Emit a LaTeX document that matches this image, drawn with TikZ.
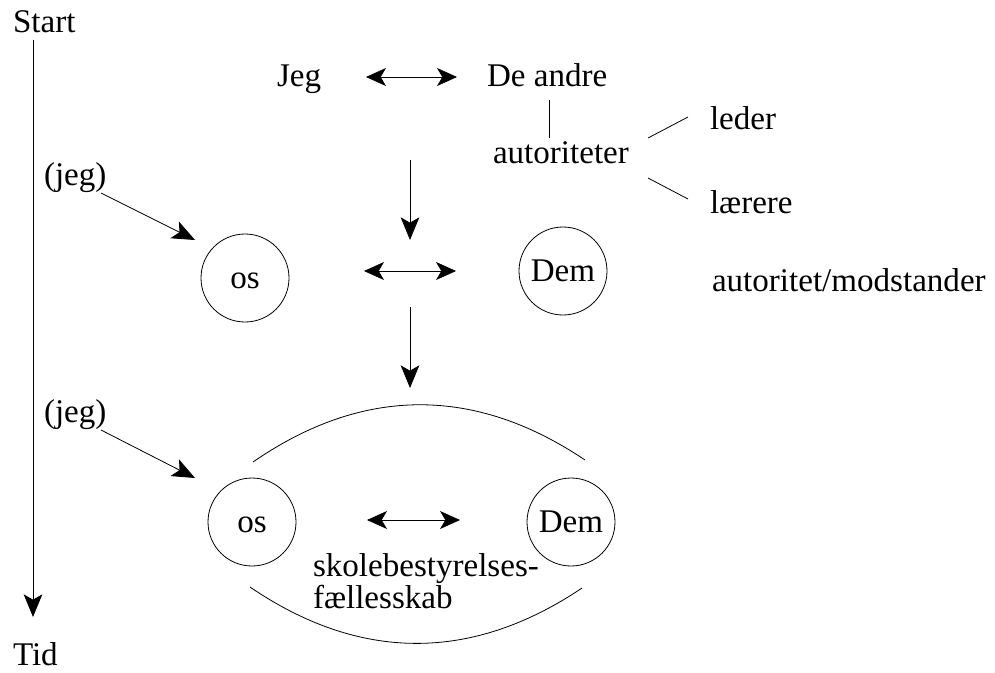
\documentclass[tikz,border=0pt]{standalone}
\usepackage{fontspec}
\setmainfont{Liberation Serif}
\usetikzlibrary{arrows.meta}
\begin{document}
\begin{tikzpicture}[x=0.75pt,y=-0.75pt,
  lbl/.style={anchor=base west,inner sep=0pt,outer sep=0pt,font=\fontsize{24.8}{22.5}\selectfont},
  ring/.style={draw,circle,line width=0.6pt},
  conn/.style={line width=0.6pt},
  arr/.style={line width=0.6pt,-{Stealth[length=17pt,width=14pt,inset=4pt]}},
  darr/.style={line width=0.5pt,{Stealth[length=15pt,width=13.5pt,inset=4pt]}-{Stealth[length=15pt,width=13.5pt,inset=4pt]}}]
\useasboundingbox (0,0) rectangle (995,672);
% time axis
\node[lbl] (start) at (13,32) {Start};
\node[lbl,text depth=0pt] (tid) at (13,665) {Tid};
\coordinate (t0) at (33,40);
\coordinate (t1) at (33,617);
\draw[arr] (t0) -- (t1);
% top row
\node[lbl] (jeg) at (277,86) {Jeg};
\node[lbl] (deandre) at (487,86) {De andre};
\coordinate (a1) at (366,77);
\coordinate (a2) at (457,77);
\draw[darr] (a1) -- (a2);
\node[lbl] (aut) at (493,163) {autoriteter};
\coordinate (v1) at (549,100);
\coordinate (v2) at (549,138);
\draw[conn] (v1) -- (v2);
\node[lbl] (leder) at (710,129) {leder};
\node[lbl] (laerere) at (710,213) {lærere};
\coordinate (l1) at (648,138);
\coordinate (l2) at (688,117);
\coordinate (l3) at (648,178);
\coordinate (l4) at (688,199);
\draw[conn] (l1) -- (l2);
\draw[conn] (l3) -- (l4);
\coordinate (d1) at (410,160);
\coordinate (d2) at (410,240);
\draw[arr] (d1) -- (d2);
% middle row
\node[lbl] (jeg1) at (44,185) {(jeg)};
\node[ring,minimum size=88pt*0.75] (os1) at (245,278) {};
\node[lbl,anchor=base] at (245,288) {os};
\node[ring,minimum size=88pt*0.75] (dem1) at (563,271) {};
\node[lbl,anchor=base] at (563,281) {Dem};
\coordinate (j1a) at (101,193);
\coordinate (j1b) at (195,240);
\draw[arr] (j1a) -- (j1b);
\coordinate (m1) at (364,271);
\coordinate (m2) at (456,271);
\draw[darr] (m1) -- (m2);
\node[lbl] (autmod) at (712,291) {autoritet/modstander};
\coordinate (d3) at (410,307);
\coordinate (d4) at (410,388);
\draw[arr] (d3) -- (d4);
% bottom row
\node[lbl] (jeg2) at (44,422) {(jeg)};
\coordinate (j2a) at (101,430);
\coordinate (j2b) at (195,478);
\draw[arr] (j2a) -- (j2b);
\node[ring,minimum size=88pt*0.75] (os2) at (252,522) {};
\node[lbl,anchor=base] at (252,532) {os};
\node[ring,minimum size=88pt*0.75] (dem2) at (571,522) {};
\node[lbl,anchor=base] at (571,532) {Dem};
\coordinate (m3) at (367,520);
\coordinate (m4) at (460,520);
\draw[darr] (m3) -- (m4);
\node[lbl,align=left,anchor=base west] (skole) at (313,608) {skolebestyrelses-\\fællesskab};
\coordinate (u1) at (253,462);
\coordinate (u2) at (585,460);
\draw[conn] (u1) .. controls (363,386) and (475,386) .. (u2);
\coordinate (w1) at (250,587);
\coordinate (w2) at (582,588);
\draw[conn] (w1) .. controls (360,662) and (472,662) .. (w2);
\end{tikzpicture}
\end{document}
